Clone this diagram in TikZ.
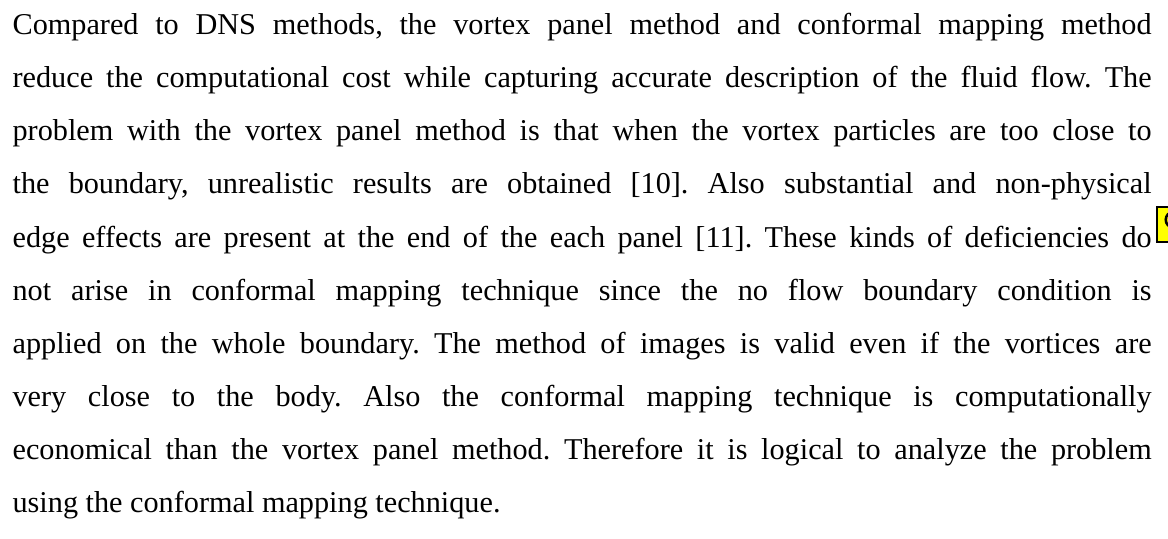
\documentclass[tikz,border=0pt]{standalone}
\usepackage{fontspec}
\setmainfont{Liberation Serif}
\usepackage{xcolor}
\definecolor{Note}{HTML}{FFFF00}
\definecolor{Ink}{HTML}{000000}
\tikzset{
  para/.style={anchor=north west,inner sep=0pt,text width=452pt,align=justify,
    font=\fontsize{12}{21.1}\selectfont,text=Ink},
}
\begin{document}
\begin{tikzpicture}[x=1pt,y=1pt]
  \useasboundingbox (0,0) rectangle (463.5,-213.5);
  \node[para] (para) at (4.8,1.3) {\frenchspacing\hyphenpenalty=10000\hbadness=10000\strut
    Compared to DNS methods, the vortex panel method and conformal mapping method\linebreak
    reduce the computational cost while capturing accurate description of the fluid flow. The\linebreak
    problem with the vortex panel method is that when the vortex particles are too close to\linebreak
    the boundary, unrealistic results are obtained [10]. Also substantial and non-physical\linebreak
    edge effects are present at the end of the each panel [11]. These kinds of deficiencies do\linebreak
    not arise in conformal mapping technique since the no flow boundary condition is\linebreak
    applied on the whole boundary. The method of images is valid even if the vortices are\linebreak
    very close to the body. Also the conformal mapping technique is computationally\linebreak
    economical than the vortex panel method. Therefore it is logical to analyze the problem\linebreak
    using the conformal mapping technique.};
  % comment marker at the right edge
  \begin{scope}
    \clip (0,0) rectangle (463.5,-213.5);
    \draw[fill=Note,draw=Ink,line width=0.8pt] (459.3,-82.3) rectangle (470,-96.2);
    \draw[Ink,line width=1pt] (465.4,-87.2) ellipse (2.8 and 3);
  \end{scope}
\end{tikzpicture}
\end{document}
